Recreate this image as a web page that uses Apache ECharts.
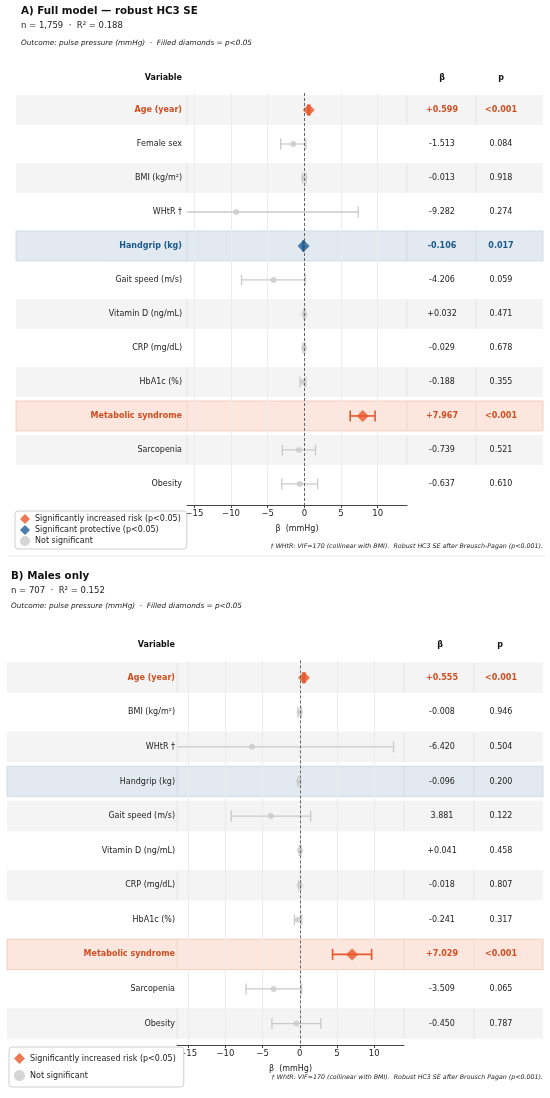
<!DOCTYPE html>
<html>
<head>
<meta charset="utf-8">
<script src="https://cdn.jsdelivr.net/npm/echarts@6/dist/echarts.min.js"></script>
<style>
html,body{margin:0;padding:0;background:#fff;}
#chart{width:550px;height:1098px;}
</style>
</head>
<body>
<div id="chart"></div>
<script>
// ---- data: panel A (full model) ----
var varsA = ['Age (year)','Female sex','BMI (kg/m²)','WHtR †','Handgrip (kg)','Gait speed (m/s)','Vitamin D (ng/mL)','CRP (mg/dL)','HbA1c (%)','Metabolic syndrome','Sarcopenia','Obesity'];
var betaA = [0.599,-1.513,-0.013,-9.282,-0.106,-4.206,0.032,-0.029,-0.188,7.967,-0.739,-0.637];
var loA   = [0.47,-3.23,-0.26,-25.9,-0.19,-8.57,-0.06,-0.17,-0.59,6.25,-3.0,-3.08];
var hiA   = [0.73,0.20,0.23,7.35,-0.02,0.16,0.12,0.11,0.21,9.65,1.52,1.81];
var betaTxtA = ['+0.599','-1.513','-0.013','-9.282','-0.106','-4.206','+0.032','-0.029','-0.188','+7.967','-0.739','-0.637'];
var pTxtA = ['<0.001','0.084','0.918','0.274','0.017','0.059','0.471','0.678','0.355','<0.001','0.521','0.610'];
var sigA  = ['up','ns','ns','ns','down','ns','ns','ns','ns','up','ns','ns'];
var bandA = ['grey','white','grey','white','blue','white','grey','white','grey','pink','grey','white'];

// ---- data: panel B (males only) ----
var varsB = ['Age (year)','BMI (kg/m²)','WHtR †','Handgrip (kg)','Gait speed (m/s)','Vitamin D (ng/mL)','CRP (mg/dL)','HbA1c (%)','Metabolic syndrome','Sarcopenia','Obesity'];
var betaB = [0.555,-0.008,-6.420,-0.096,-3.881,0.041,-0.018,-0.241,7.029,-3.509,-0.450];
var loB   = [0.42,-0.24,-25.3,-0.24,-9.2,-0.07,-0.16,-0.72,4.4,-7.22,-3.75];
var hiB   = [0.69,0.22,12.6,0.05,1.45,0.15,0.13,0.26,9.65,0.25,2.82];
var betaTxtB = ['+0.555','-0.008','-6.420','-0.096','3.881','+0.041','-0.018','-0.241','+7.029','-3.509','-0.450'];
var pTxtB = ['<0.001','0.946','0.504','0.200','0.122','0.458','0.807','0.317','<0.001','0.065','0.787'];
var sigB  = ['up','ns','ns','ns','ns','ns','ns','ns','up','ns','ns'];
var bandB = ['grey','white','grey','blue','grey','white','grey','white','pink','white','grey'];

var tickValues = [-15,-10,-5,0,5,10];

var FONT = 'DejaVu Sans';
var ORANGE = '#e8572a', ORANGE_TXT = '#cf4e22';
var BLUE = '#1b5e96', BLUE_TXT = '#1a5a8c';
var GREY = '#cacaca';
var BAND_FILL = {grey:'#f4f4f4', blue:'#e2e9f1', pink:'#fce6de'};
var BAND_LINE = {blue:'#cad7e5', pink:'#f2c4b4'};

var NAME_UP = 'Significantly increased risk (p<0.05)';
var NAME_DOWN = 'Significant protective (p<0.05)';
var NAME_NS = 'Not significant';

var chart = echarts.init(document.getElementById('chart'));

function txtColor(s){ return s=='up'?ORANGE_TXT:(s=='down'?BLUE_TXT:'#222'); }

// build one panel: grid + axes + series
function buildPanel(k, d, L){
    var n = d.vars.length;
    var idx = d.vars.map(function(_, i){ return i; });
    var grid = {left:L.gl, width:L.gr-L.gl, top:L.gt, height:L.gb-L.gt};
    var xAxis = {
        type:'value', gridIndex:k, min:d.xmin, max:d.xmax, position:'bottom',
        axisLine:{show:true, onZero:false, lineStyle:{color:'#444', width:1}},
        axisTick:{show:true, customValues:tickValues, length:3, lineStyle:{color:'#444'}},
        axisLabel:{customValues:tickValues, fontFamily:FONT, fontSize:8.5, color:'#222', margin:4,
            formatter:function(v){ return v<0 ? '\u2212'+Math.abs(v) : String(v); }},
        splitLine:{show:true, lineStyle:{color:'#ececec', width:1}},
        name:'β  (mmHg)', nameLocation:'middle', nameGap:20,
        nameTextStyle:{fontFamily:FONT, fontSize:8, color:'#222'}
    };
    var yAxis = {
        type:'value', gridIndex:k, inverse:true, min:-0.5, max:n-1+0.62,
        axisLine:{show:false}, axisTick:{show:false}, splitLine:{show:false},
        axisLabel:{customValues:idx, margin:L.lm,
            formatter:function(v){
                var i = Math.round(v);
                var s = d.sig[i];
                return '{'+(s=='ns'?'n':s)+'|'+d.vars[i]+'}';
            },
            rich:{
                n:{fontFamily:FONT, fontSize:8, color:'#222'},
                up:{fontFamily:FONT, fontSize:8, color:ORANGE_TXT, fontWeight:'bold'},
                down:{fontFamily:FONT, fontSize:8, color:BLUE_TXT, fontWeight:'bold'}
            }}
    };

    var series = [];
    // row bands + β / p columns
    series.push({
        type:'custom', xAxisIndex:k, yAxisIndex:k, z:-1, silent:true, clip:false,
        data: idx.map(function(i){ return [0, i]; }),
        renderItem:function(params, api){
            var i = api.value(1);
            var yc = api.coord([0, i])[1];
            var h = api.size([0, 0.88])[1];
            var kids = [];
            var b = d.band[i];
            if(BAND_FILL[b]){
                kids.push({type:'rect', shape:{x:L.bl, y:yc-h/2, width:543-L.bl, height:h},
                    style:{fill:BAND_FILL[b], stroke:BAND_LINE[b]||null, lineWidth:BAND_LINE[b]?0.8:0}});
                L.sep.forEach(function(sx){
                    kids.push({type:'line', shape:{x1:sx, y1:yc-h/2, x2:sx, y2:yc+h/2},
                        style:{stroke:'rgba(0,0,0,0.06)', lineWidth:1}});
                });
            }
            var s = d.sig[i];
            var bold = s!='ns' ? 'bold' : 'normal';
            kids.push({type:'text', style:{x:442, y:yc, text:d.betaTxt[i], align:'center', verticalAlign:'middle',
                fontFamily:FONT, fontSize:8, fontWeight:bold, fill:txtColor(s)}});
            kids.push({type:'text', style:{x:501, y:yc, text:d.pTxt[i], align:'center', verticalAlign:'middle',
                fontFamily:FONT, fontSize:8, fontWeight:bold, fill:txtColor(s)}});
            return {type:'group', children:kids};
        }
    });
    // CI whiskers
    series.push({
        type:'custom', xAxisIndex:k, yAxisIndex:k, z:2, silent:true, clip:false,
        data: idx.map(function(i){ return [d.lo[i], d.hi[i], i]; }),
        renderItem:function(params, api){
            var i = api.value(2);
            var cs = params.coordSys;
            var p0 = api.coord([api.value(0), i]);
            var p1 = api.coord([api.value(1), i]);
            var s = d.sig[i];
            var col = s=='up'?ORANGE:(s=='down'?BLUE:GREY);
            var lw = s=='ns'?1.3:1.6;
            var x0 = Math.max(p0[0], cs.x), x1 = Math.min(p1[0], cs.x+cs.width);
            var y = p0[1], c = 5.5;
            var st = {stroke:col, lineWidth:lw};
            var kids = [{type:'line', shape:{x1:x0, y1:y, x2:x1, y2:y}, style:st}];
            if(p0[0] >= cs.x) kids.push({type:'line', shape:{x1:x0, y1:y-c, x2:x0, y2:y+c}, style:st});
            if(p1[0] <= cs.x+cs.width) kids.push({type:'line', shape:{x1:x1, y1:y-c, x2:x1, y2:y+c}, style:st});
            return {type:'group', children:kids};
        },
        markLine:{silent:true, symbol:'none', label:{show:false},
            lineStyle:{color:'#666', type:[3,2], width:1}, data:[{xAxis:0}]}
    });
    function pts(flag){
        return idx.filter(function(i){ return d.sig[i]==flag; }).map(function(i){ return [d.beta[i], i]; });
    }
    series.push({type:'scatter', name:NAME_UP, xAxisIndex:k, yAxisIndex:k, z:4, symbol:'diamond', symbolSize:12,
        itemStyle:{color:ORANGE}, data:pts('up')});
    series.push({type:'scatter', name:NAME_DOWN, xAxisIndex:k, yAxisIndex:k, z:4, symbol:'diamond', symbolSize:12,
        itemStyle:{color:BLUE}, data:pts('down')});
    series.push({type:'scatter', name:NAME_NS, xAxisIndex:k, yAxisIndex:k, z:3, symbol:'circle', symbolSize:6,
        itemStyle:{color:GREY}, data:pts('ns')});
    return {grid:grid, xAxis:xAxis, yAxis:yAxis, series:series};
}

var pA = buildPanel(0,
    {vars:varsA, beta:betaA, lo:loA, hi:hiA, betaTxt:betaTxtA, pTxt:pTxtA, sig:sigA, band:bandA, xmin:-16, xmax:14},
    {gl:187, gr:407, gt:93, gb:505, lm:5, bl:16, sep:[187,407,476]});
var pB = buildPanel(1,
    {vars:varsB, beta:betaB, lo:loB, hi:hiB, betaTxt:betaTxtB, pTxt:pTxtB, sig:sigB, band:bandB, xmin:-16.5, xmax:14},
    {gl:177, gr:404, gt:660.4, gb:1045, lm:2, bl:7, sep:[177,404,474]});

function legendCfg(left, top, items, gap, size, pad){
    return {
        left:left, top:top, orient:'vertical', itemGap:gap, itemWidth:size, itemHeight:size,
        padding:pad, borderColor:'#cfcfcf', borderWidth:1, borderRadius:3, backgroundColor:'#fff',
        textStyle:{fontFamily:FONT, fontSize:8, color:'#222'},
        selectedMode:false,
        data:items
    };
}

function txt(x, y, s, size, opt){
    opt = opt || {};
    return {type:'text', x:x, y:y, silent:true, style:{text:s, fontFamily:FONT, fontSize:size,
        fontWeight:opt.bold?'bold':'normal', fontStyle:opt.italic?'italic':'normal',
        fill:opt.color||'#111', align:opt.align||'left', verticalAlign:'middle'}};
}

var option = {
    backgroundColor:'#fff',
    animation:false,
    grid:[pA.grid, pB.grid],
    xAxis:[pA.xAxis, pB.xAxis],
    yAxis:[pA.yAxis, pB.yAxis],
    legend:[
        legendCfg(15, 511, [{name:NAME_UP, icon:'diamond'},{name:NAME_DOWN, icon:'diamond'},{name:NAME_NS, icon:'circle'}], 1, 10, [3,6,3,5]),
        legendCfg(9, 1047, [{name:NAME_UP, icon:'diamond'},{name:NAME_NS, icon:'circle'}], 6, 11, [6,8,6,5])
    ],
    series: pA.series.concat(pB.series),
    graphic:[
        txt(21, 11, 'A) Full model — robust HC3 SE', 10.3, {bold:true}),
        txt(21, 26, 'n = 1,759  ·  R² = 0.188', 8.5, {color:'#222'}),
        txt(21, 43, 'Outcome: pulse pressure (mmHg)  ·  Filled diamonds = p<0.05', 7.3, {italic:true, color:'#222'}),
        txt(182, 78, 'Variable', 8, {bold:true, align:'right'}),
        txt(442, 78, 'β', 8, {bold:true, align:'center'}),
        txt(501, 78, 'p', 8, {bold:true, align:'center'}),
        txt(543, 546, '† WHtR: VIF=170 (collinear with BMI).  Robust HC3 SE after Breusch-Pagan (p<0.001).', 6.3, {italic:true, align:'right', color:'#222'}),
        {type:'line', silent:true, shape:{x1:8, y1:556, x2:545, y2:556}, style:{stroke:'#e8e8e8', lineWidth:1}},
        txt(11, 576, 'B) Males only', 10.3, {bold:true}),
        txt(11, 591, 'n = 707  ·  R² = 0.152', 8.5, {color:'#222'}),
        txt(11, 606, 'Outcome: pulse pressure (mmHg)  ·  Filled diamonds = p<0.05', 7.3, {italic:true, color:'#222'}),
        txt(175, 645, 'Variable', 8, {bold:true, align:'right'}),
        txt(440, 645, 'β', 8, {bold:true, align:'center'}),
        txt(500, 645, 'p', 8, {bold:true, align:'center'}),
        txt(543, 1077, '† WhtR: VIF=170 (collinear with BMI).  Robust HC3 SE after Brousch Pagan (p<0.001).', 6.3, {italic:true, align:'right', color:'#222'})
    ]
};
chart.setOption(option);
</script>
</body>
</html>
